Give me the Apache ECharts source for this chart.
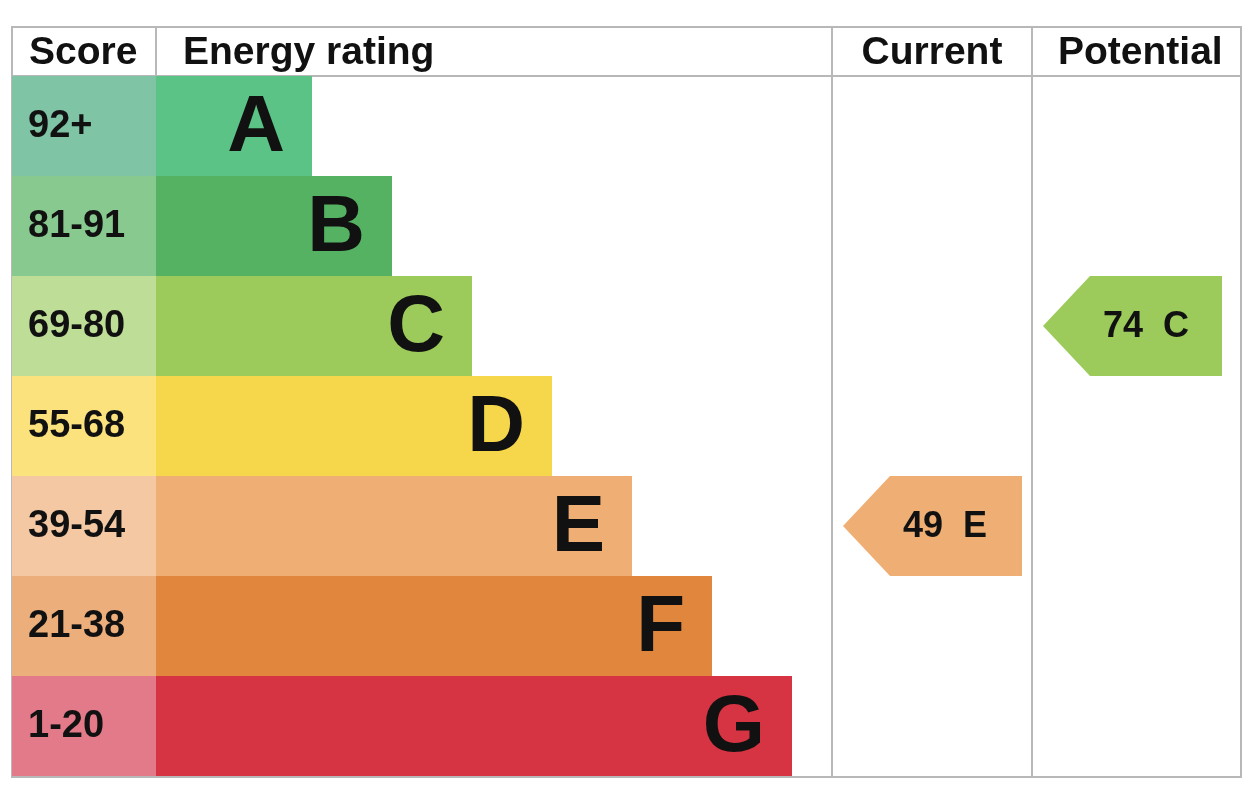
<!DOCTYPE html>
<html>
<head>
<meta charset="utf-8">
<script src="https://cdn.jsdelivr.net/npm/echarts@6/dist/echarts.min.js"></script>
<style>
  html, body { margin: 0; padding: 0; background: #fff; }
  #main { width: 1259px; height: 791px; }
</style>
</head>
<body>
<div id="main"></div>
<script>
// bands top to bottom
var bands = ['A', 'B', 'C', 'D', 'E', 'F', 'G'];
var scoreRanges = ['92+', '81-91', '69-80', '55-68', '39-54', '21-38', '1-20'];
var barSteps = [1, 2, 3, 4, 5, 6, 7];
var currentRating = { score: 49, band: 'E' };
var potentialRating = { score: 74, band: 'C' };
var headers = ['Score', 'Energy rating', 'Current', 'Potential'];

// colours
var barColors = ['#5ac385', '#55b262', '#9ccb5b', '#f6d64a', '#efae73', '#e0863d', '#d63443'];
var cellColors = ['#7fc4a4', '#87c98f', '#bedd96', '#fbe27d', '#f4c8a2', '#ecae7b', '#e37a8a'];
var LINE = '#b8b8b8';
var FONT = '"Liberation Sans", Arial, sans-serif';

// layout (grid units = px inside grid)
var scoreW = 144, barBase = 76, barStep = 80;
var curCol = 820, potCol = 1020;

var chart = echarts.init(document.getElementById('main'));

function txt(text, x, y, size, align) {
  return {
    type: 'text',
    style: {
      text: text, x: x, y: y,
      font: 'bold ' + size + 'px ' + FONT,
      fill: '#111',
      align: align, textAlign: align,
      verticalAlign: 'middle', textVerticalAlign: 'middle'
    }
  };
}

//色带
function renderBand(params, api) {
  var i = api.value(1);
  var h = api.size([0, 1])[1];
  var p0 = api.coord([0, i]);
  var p1 = api.coord([scoreW, i]);
  var p2 = api.coord([api.value(0), i]);
  var top = p0[1] - h / 2;
  return {
    type: 'group',
    children: [
      { type: 'rect', shape: { x: p0[0], y: top, width: p1[0] - p0[0], height: h }, style: { fill: cellColors[i] } },
      { type: 'rect', shape: { x: p1[0], y: top, width: p2[0] - p1[0], height: h }, style: { fill: barColors[i] } },
      txt(scoreRanges[i], p0[0] + 16, p0[1] + 1, 38, 'left'),
      txt(bands[i], p2[0] - 27, p0[1] + 3, 80, 'right')
    ]
  };
}

//箭头
function arrowRenderer(col) {
  return function (params, api) {
    var i = api.value(1);
    var h = api.size([0, 1])[1];
    var tip = api.coord([col + 11, i]);
    var x1 = api.coord([col + 58, i])[0];
    var x2 = api.coord([col + 190, i])[0];
    var top = tip[1] - h / 2, bot = tip[1] + h / 2;
    return {
      type: 'group',
      children: [
        { type: 'polygon', shape: { points: [[tip[0], tip[1]], [x1, top], [x2, top], [x2, bot], [x1, bot]] },
          style: { fill: barColors[i] } },
        txt(api.value(0) + '  ' + bands[i], api.coord([col + 71, i])[0], tip[1] + 1, 36, 'left')
      ]
    };
  };
}

var option = {
  animation: false,
  grid: { left: 12, right: 18, top: 76, bottom: 15 },
  xAxis: { type: 'value', min: 0, max: 1229, show: false },
  yAxis: { type: 'category', data: bands, inverse: true, show: false },
  series: [
    {
      type: 'custom', name: 'rating', renderItem: renderBand,
      data: bands.map(function (b, i) { return [scoreW + barBase + barStep * barSteps[i], i]; })
    },
    {
      type: 'custom', name: 'Current', renderItem: arrowRenderer(curCol),
      data: [[currentRating.score, bands.indexOf(currentRating.band)]]
    },
    {
      type: 'custom', name: 'Potential', renderItem: arrowRenderer(potCol),
      data: [[potentialRating.score, bands.indexOf(potentialRating.band)]]
    }
  ],
  graphic: [
    { type: 'rect', shape: { x: 12, y: 27, width: 1229, height: 750 }, style: { fill: null, stroke: LINE, lineWidth: 2 } },
    { type: 'line', shape: { x1: 12, y1: 76, x2: 1241, y2: 76 }, style: { stroke: LINE, lineWidth: 2 } },
    { type: 'line', shape: { x1: 156, y1: 27, x2: 156, y2: 777 }, style: { stroke: LINE, lineWidth: 2 } },
    { type: 'line', shape: { x1: 832, y1: 27, x2: 832, y2: 777 }, style: { stroke: LINE, lineWidth: 2 } },
    { type: 'line', shape: { x1: 1032, y1: 27, x2: 1032, y2: 777 }, style: { stroke: LINE, lineWidth: 2 } },
    txt(headers[0], 29, 53, 39, 'left'),
    txt(headers[1], 183, 53, 39, 'left'),
    txt(headers[2], 932, 53, 39, 'center'),
    txt(headers[3], 1058, 53, 39, 'left')
  ]
};
chart.setOption(option);
</script>
</body>
</html>
